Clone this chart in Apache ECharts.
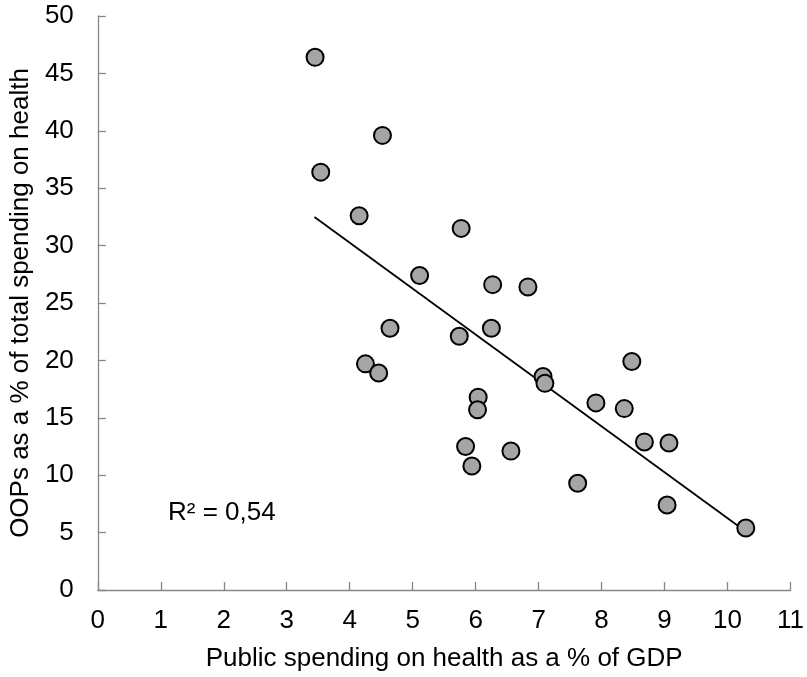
<!DOCTYPE html>
<html>
<head>
<meta charset="utf-8">
<script src="https://cdn.jsdelivr.net/npm/echarts@6/dist/echarts.min.js"></script>
<style>html,body{margin:0;padding:0;background:#fff}#c{width:807px;height:677px}</style>
</head>
<body>
<div id="c"></div>
<script>
const publicSpending = [3.45, 3.54, 4.52, 4.15, 5.77, 5.11, 6.27, 6.83, 4.64, 5.74, 6.25, 4.25, 4.46, 7.07, 7.10, 8.48, 7.91, 8.36, 6.04, 6.03, 5.84, 6.56, 5.94, 7.62, 8.68, 9.07, 9.04, 10.29];
const oopShare      = [46.4, 36.4, 39.6, 32.6, 31.5, 27.4, 26.6, 26.4, 22.8, 22.1, 22.8, 19.7, 18.9, 18.6, 18.0, 19.9, 16.3, 15.8, 16.8, 15.7, 12.5, 12.1, 10.8, 9.3, 12.9, 12.8, 7.4, 5.4];
const trendX = [3.44, 10.29];
const trendY = [32.5, 5.1];
const xTicks = [0, 11, 1];
const yTicks = [0, 50, 5];
const r2Label = 'R² = 0,54';
const xTitle = 'Public spending on health as a % of GDP';
const yTitle = 'OOPs as a % of total spending on health';

const font = '"Liberation Sans", Arial, sans-serif';
const axisCol = '#878787';
const chart = echarts.init(document.getElementById('c'), null, {renderer: 'canvas'});
const axisCommon = {
  axisLine: {show: true, lineStyle: {color: axisCol, width: 1.3}},
  axisTick: {show: true, inside: true, length: 8, lineStyle: {color: axisCol, width: 1.3}},
  splitLine: {show: false},
  nameLocation: 'middle',
  nameTextStyle: {color: '#000', fontSize: 26, fontFamily: font}
};
chart.setOption({
  animation: false,
  grid: {left: 97, right: 13, top: 16, bottom: 87, containLabel: false},
  xAxis: Object.assign({}, axisCommon, {
    type: 'value', min: xTicks[0], max: xTicks[1], interval: xTicks[2],
    name: xTitle, nameGap: 56,
    axisLabel: {color: '#000', fontSize: 26, fontFamily: font, margin: 18}
  }),
  yAxis: Object.assign({}, axisCommon, {
    type: 'value', min: yTicks[0], max: yTicks[1], interval: yTicks[2],
    name: yTitle, nameGap: 58,
    axisLabel: {color: '#000', fontSize: 26, fontFamily: font, margin: 24}
  }),
  graphic: [{
    type: 'text', left: 168, top: 500,
    style: {text: r2Label, fill: '#000', font: '26px ' + font}
  }],
  series: [{
    type: 'scatter',
    data: publicSpending.map((x, i) => [x, oopShare[i]]),
    symbol: 'circle', symbolSize: 17,
    itemStyle: {color: '#a5a5a5', borderColor: '#000', borderWidth: 2, opacity: 1},
    z: 3
  }, {
    type: 'line',
    data: trendX.map((x, i) => [x, trendY[i]]),
    showSymbol: false, symbol: 'none',
    lineStyle: {color: '#000', width: 1.8},
    z: 2
  }]
});
</script>
</body>
</html>
